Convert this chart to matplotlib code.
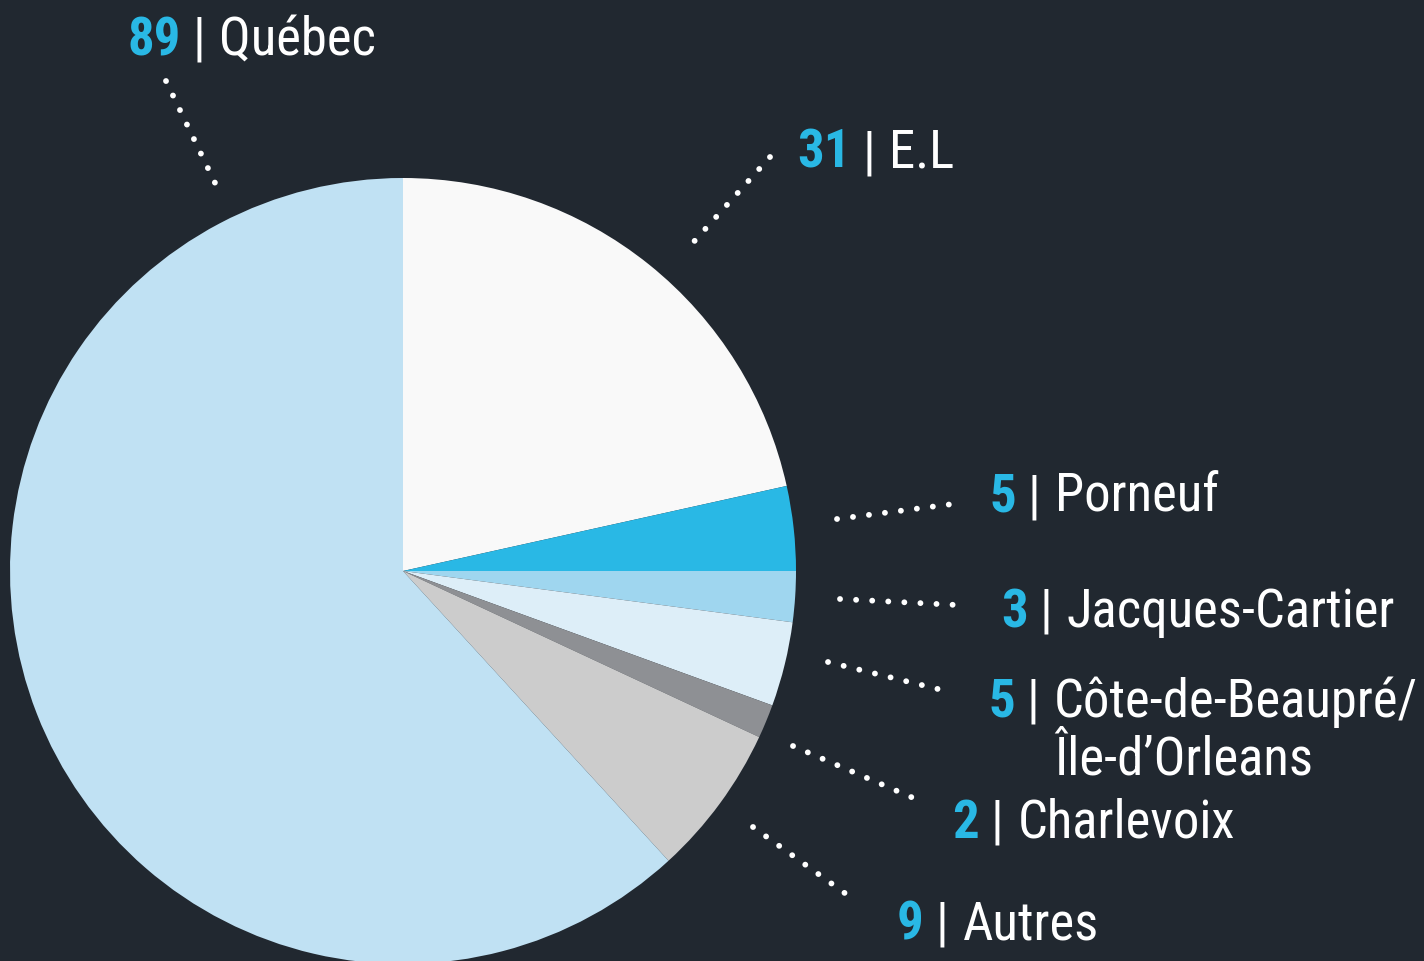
import matplotlib
matplotlib.use('Agg')
import matplotlib.pyplot as plt
from matplotlib import font_manager

# ── data ──────────────────────────────────────────────────────────────────────
regions = ['E.L', 'Porneuf', 'Jacques-Cartier', 'Côte-de-Beaupré/\nÎle-d\u2019Orleans',
           'Charlevoix', 'Autres', 'Québec']
counts = [31, 5, 3, 5, 2, 9, 89]
colors = ['#f9f9f9', '#29b8e5', '#9fd6ef', '#ddeef8', '#8e9094', '#cccccc', '#c0e1f3']

BG = '#212830'
BLUE = '#29b8e5'

# pick a condensed family if one is installed
names = {f.name for f in font_manager.fontManager.ttflist}
FAMILY = 'DejaVu Sans'
for cand in ['Roboto Condensed', 'Liberation Sans Narrow', 'Open Sans Condensed',
             'Noto Sans Condensed', 'DejaVu Sans Condensed']:
    if cand in names:
        FAMILY = cand
        break

W, H = 1424, 962
fig = plt.figure(figsize=(W / 100, H / 100), dpi=100, facecolor=BG)
ax = fig.add_axes([0, 0, 1, 1])
ax.set_facecolor(BG)

ax.pie(counts, colors=colors, startangle=90, counterclock=False,
       center=(403, H - 572), radius=393,
       wedgeprops=dict(linewidth=0, antialiased=True))
ax.set_xlim(0, W)
ax.set_ylim(0, H)
ax.set_aspect('equal')
ax.set_axis_off()

# label placement (pixel coords, y from top): number left x, baseline y
label_pos = {
    'Québec': (127, 55),
    'E.L': (797, 168),
    'Porneuf': (989, 512),
    'Jacques-Cartier': (1001, 627),
    'Côte-de-Beaupré/\nÎle-d\u2019Orleans': (988, 717),
    'Charlevoix': (952, 838),
    'Autres': (897, 940),
}
# leader lines: (x0, y0) -> (x1, y1), y from top
leaders = {
    'Québec': ((166, 82), (217, 188)),
    'E.L': ((770, 158), (690, 247)),
    'Porneuf': ((837, 520), (953, 505)),
    'Jacques-Cartier': ((840, 600), (957, 606)),
    'Côte-de-Beaupré/\nÎle-d\u2019Orleans': ((828, 663), (946, 692)),
    'Charlevoix': ((793, 747), (918, 801)),
    'Autres': ((753, 828), (853, 900)),
}

FS = 38
num_texts = {}
for name, n in zip(regions, counts):
    x, y = label_pos[name]
    num_texts[name] = ax.text(x, H - y, str(n), color=BLUE, fontsize=FS,
                              fontweight='heavy', family=FAMILY, va='baseline', ha='left')
    (x0, y0), (x1, y1) = leaders[name]
    ax.plot([x0, x1], [H - y0, H - y1], color='white', linewidth=4.2,
            linestyle=(0, (0.01, 2.75)), dash_capstyle='round', solid_capstyle='round')

fig.canvas.draw()
r = fig.canvas.get_renderer()
for name in regions:
    bb = num_texts[name].get_window_extent(renderer=r)
    x, y = label_pos[name]
    lines = name.split('\n')
    bar = ax.text(bb.x1 + 12, H - y, '|', color='white', fontsize=FS,
                  family=FAMILY, va='baseline', ha='left')
    bx = bar.get_window_extent(renderer=r).x1 + 14
    ax.text(bx, H - y, lines[0], color='white', fontsize=FS,
            family=FAMILY, va='baseline', ha='left')
    if len(lines) > 1:
        ax.text(bx, H - y - 58, lines[1], color='white', fontsize=FS,
                family=FAMILY, va='baseline', ha='left')

fig.savefig('out.png', dpi=100, facecolor=BG)
